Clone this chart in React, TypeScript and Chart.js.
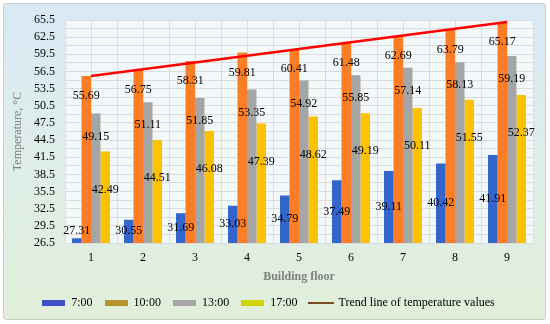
import React, { useEffect, useRef } from "react";
import { Chart, registerables } from "chart.js";

Chart.register(...registerables);

const FLOORS = ["1", "2", "3", "4", "5", "6", "7", "8", "9"];
const T_0700 = [27.31, 30.55, 31.69, 33.03, 34.79, 37.49, 39.11, 40.42, 41.91];
const T_1000 = [55.69, 56.75, 58.31, 59.81, 60.41, 61.48, 62.69, 63.79, 65.17];
const T_1300 = [49.15, 51.11, 51.85, 53.35, 54.92, 55.85, 57.14, 58.13, 59.19];
const T_1700 = [42.49, 44.51, 46.08, 47.39, 48.62, 49.19, 50.11, 51.55, 52.37];
const TREND = [55.7, null, null, null, null, null, null, null, 65.15];
const Y_TICKS = [26.5, 29.5, 32.5, 35.5, 38.5, 41.5, 44.5, 47.5, 50.5, 53.5, 56.5, 59.5, 62.5, 65.5];
const SERIES_NAMES = ["7:00", "10:00", "13:00", "17:00", "Trend line of temperature values"];

const BAR_COLORS = ["#3465cc", "#fb7d25", "#a5a5a5", "#ffc000"];
const LEGEND_COLORS = ["#3f4fc6", "#b8952c", "#a6a6a6", "#cfd400", "#7b4a1e"];
const FONT = '"Liberation Serif", "Times New Roman", serif';

function makeIcon(color: string, w: number, h: number) {
  const c = document.createElement("canvas");
  c.width = w;
  c.height = h;
  const g = c.getContext("2d")!;
  g.fillStyle = color;
  g.fillRect(0, 0, w, h);
  return c;
}

const bgPlugin = {
  id: "plotBg",
  beforeDraw(chart: any) {
    const { ctx, chartArea } = chart;
    ctx.save();
    ctx.fillStyle = "#f3f8fa";
    ctx.fillRect(chartArea.left, chartArea.top, chartArea.right - chartArea.left, chartArea.bottom - chartArea.top);
    ctx.restore();
  },
  beforeDatasetsDraw(chart: any) {
    const { ctx, chartArea } = chart;
    const n = FLOORS.length * 2;
    const step = (chartArea.right - chartArea.left) / n;
    ctx.save();
    ctx.strokeStyle = "#dcdcdc";
    ctx.lineWidth = 1;
    for (let i = 0; i <= n; i++) {
      const x = Math.round(chartArea.left + i * step) + 0.5;
      ctx.beginPath();
      ctx.moveTo(x, chartArea.top);
      ctx.lineTo(x, chartArea.bottom);
      ctx.stroke();
    }
    ctx.restore();
  },
};

const SERIES = [T_0700, T_1000, T_1300, T_1700];
const LABEL_OFFSETS = [0, 20, 23, 38];

const labelPlugin = {
  id: "valueLabels",
  afterDatasetsDraw(chart: any) {
    const ctx = chart.ctx;
    const base = chart.chartArea.bottom;
    ctx.save();
    ctx.font = `12px ${FONT}`;
    ctx.fillStyle = "#000";
    ctx.textAlign = "center";
    ctx.textBaseline = "middle";
    for (let di = 0; di < 4; di++) {
      const meta = chart.getDatasetMeta(di);
      meta.data.forEach((el: any, i: number) => {
        const x = el.x;
        const y = el.y;
        const ly = di === 0 ? Math.min((y + base) / 2, base - 12) : y + LABEL_OFFSETS[di];
        ctx.fillText(SERIES[di][i].toFixed(2), x, ly);
      });
    }
    ctx.restore();
  },
};

export default function App() {
  const ref = useRef<HTMLCanvasElement>(null);
  useEffect(() => {
    document.body.style.margin = "0";
    const icons = LEGEND_COLORS.map((c, i) => (i === 4 ? makeIcon(c, 26, 2) : makeIcon(c, 23, 6)));
    const chart = new Chart(ref.current!, {
      type: "bar",
      data: {
        labels: FLOORS,
        datasets: [
          ...SERIES.map((d, i) => ({
            type: "bar" as const,
            label: SERIES_NAMES[i],
            data: d,
            backgroundColor: BAR_COLORS[i],
            borderWidth: 0,
            categoryPercentage: 0.73,
            barPercentage: 1,
            order: 1,
          })),
          {
            type: "line" as const,
            label: SERIES_NAMES[4],
            data: TREND as any,
            borderColor: "#ff0000",
            borderWidth: 2.5,
            pointRadius: 0,
            spanGaps: true,
            fill: false,
            order: -1,
          },
        ],
      },
      options: {
        animation: false,
        responsive: false,
        layout: { padding: { left: 4, right: 17, top: 20, bottom: 5 } },
        plugins: {
          tooltip: { enabled: false },
          legend: {
            position: "bottom",
            labels: {
              usePointStyle: true,
              pointStyleWidth: 23,
              boxHeight: 6,
              padding: 12,
              color: "#000",
              font: { family: FONT, size: 12 },
              generateLabels: () =>
                SERIES_NAMES.map((text, i) => ({
                  text,
                  pointStyle: icons[i] as any,
                  fillStyle: LEGEND_COLORS[i],
                  strokeStyle: "transparent",
                  lineWidth: 0,
                  hidden: false,
                  datasetIndex: i,
                  fontColor: "#000",
                })),
            },
          },
        },
        scales: {
          x: {
            grid: { display: false, drawTicks: false },
            border: { display: false },
            ticks: { color: "#000", padding: 8, font: { family: FONT, size: 12 } },
            title: {
              display: true,
              text: "Building floor",
              color: "#7f7f7f",
              font: { family: FONT, size: 12, weight: "bold" },
              padding: { top: 0, bottom: 1 },
            },
            afterFit: (s: any) => {
              s.height = 42;
            },
          },
          y: {
            min: 26.5,
            max: 65.5,
            grid: { color: "#dcdcdc", drawTicks: false },
            border: { display: false },
            ticks: {
              stepSize: 1.5,
              autoSkip: false,
              padding: 10,
              color: "#000",
              font: { family: FONT, size: 12 },
              callback: (v: any) => {
                const val = Number(v);
                return Y_TICKS.some((t) => Math.abs(t - val) < 1e-6) ? val.toFixed(1) : "";
              },
            },
            title: {
              display: true,
              text: "Temperature, °C",
              color: "#7f7f7f",
              font: { family: FONT, size: 12 },
              padding: { top: 7, bottom: 0 },
            },
            afterFit: (s: any) => {
              s.width = 61;
            },
          },
        },
      },
      plugins: [bgPlugin, labelPlugin],
    });
    return () => chart.destroy();
  }, []);

  return (
    <div style={{ position: "relative", width: 550, height: 324, background: "#ffffff" }}>
      <div
        style={{
          position: "absolute",
          left: 3,
          top: 3,
          width: 541,
          height: 315,
          border: "1px solid #cdcdcd",
          borderRadius: 3,
          background: "linear-gradient(180deg, #d9e9f5 0%, #deedea 45%, #e1efda 100%)",
        }}
      />
      <canvas ref={ref} width={550} height={324} style={{ position: "absolute", left: 0, top: 0 }} />
    </div>
  );
}
